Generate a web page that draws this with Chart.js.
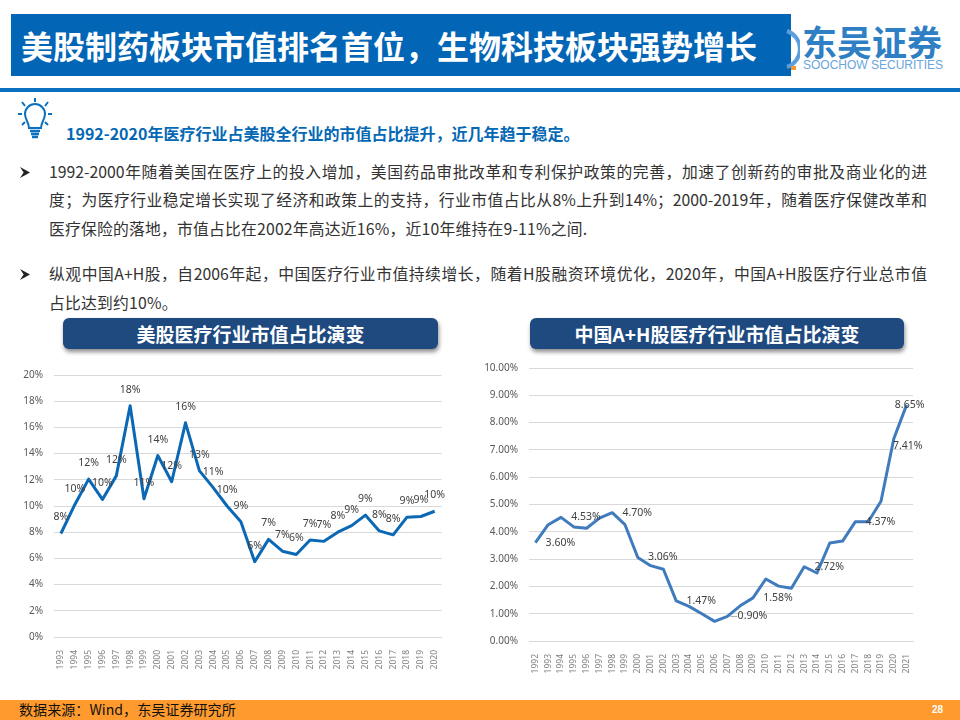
<!DOCTYPE html>
<html lang="zh">
<head>
<meta charset="utf-8">
<title>美股制药板块市值排名首位</title>
<script src="https://cdn.jsdelivr.net/npm/chart.js@4/dist/chart.umd.min.js"></script>
<style>
	html, body { margin: 0; padding: 0; background: #fff; }
	body { width: 960px; height: 720px; position: relative; overflow: hidden; font-family: "Noto Sans CJK SC", sans-serif; color: #333; }
	.abs { position: absolute; }
	#title { left: 11px; top: 14px; width: 780px; height: 62px; background: #0365b5; color: #fff; font-size: 32px; font-weight: 700; line-height: 62px; text-indent: 10px; white-space: nowrap; }
	#logo_cn { left: 802px; top: 18px; font-size: 35px; line-height: 46px; font-weight: 700; color: #2f7fc4; white-space: nowrap; }
	#logo_en { left: 803px; top: 57px; font-family: "Liberation Sans"; font-size: 12px; line-height: 16px; color: #6aa5dc; white-space: nowrap; }
	#rule { left: 0; top: 88px; width: 960px; height: 4px; background: #0a70bf; }
	#sub { left: 66px; top: 122px; font-size: 16px; line-height: 22px; font-weight: 700; color: #0468b4; white-space: nowrap; }
	.line { left: 49px; width: 878px; font-size: 15.8px; line-height: 22px; color: #333; text-align: justify; text-align-last: justify; white-space: nowrap; }
	.last { text-align-last: left; letter-spacing: 0.2px; }
	.arrow { left: 20px; width: 10px; height: 11px; }
	.head { top: 318px; height: 31px; border-radius: 6px; background: #1e4a80; color: #fff; font-size: 19px; font-weight: 700; line-height: 32px; text-align: center; box-shadow: 1px 3px 4px rgba(0,0,0,0.45); }
	#foot { left: 0; top: 700px; width: 960px; height: 20px; background: #ff9a2e; }
	#source { left: 19px; top: 699px; font-size: 14.1px; line-height: 20px; color: #111; white-space: nowrap; }
	#page { left: 932px; top: 700px; font-family: "Liberation Sans"; font-size: 10px; font-weight: 700; line-height: 20px; color: #fff; }
	#box_left { left: 20px; top: 358px; width: 430px; height: 322px; }
	#box_right { left: 470px; top: 351px; width: 460px; height: 329px; }
</style>
</head>
<body>
<div class="abs" id="title">美股制药板块市值排名首位，生物科技板块强势增长</div>
<svg class="abs" style="left:776px;top:28px" width="24" height="46" viewBox="0 0 24 46">
	<path d="M11 3 A19 19 0 0 1 11 39" fill="none" stroke="#5a9fdc" stroke-width="4"/>
	<rect x="15" y="38" width="5" height="4" fill="#f39a2e"/>
</svg>
<div class="abs" id="logo_cn">东吴证券</div>
<div class="abs" id="logo_en">SOOCHOW SECURITIES</div>
<div class="abs" id="rule"></div>

<svg class="abs" style="left:16px;top:97px" width="38" height="46" viewBox="0 0 38 46" fill="none" stroke="#0a70bf" stroke-width="2">
	<path d="M13 31 C13 25 9 23 9 17 A10 10 0 0 1 29 17 C29 23 25 25 25 31 Z"/>
	<path d="M14 34 H24 M15 37 H23 M16 40 H22" stroke-width="2.5"/>
	<path d="M19 1 V5 M6 5 L9 9 M32 5 L29 9 M2 17 H6 M32 17 H36 M6 28 L9 25 M32 28 L29 25"/>
</svg>
<div class="abs" id="sub">1992-2020年医疗行业占美股全行业的市值占比提升，近几年趋于稳定。</div>

<svg class="abs arrow" style="top:167px" viewBox="0 0 11 12"><path d="M0 0 L11 6 L0 12 L4 6 Z" fill="#222"/></svg>
<div class="abs line" style="top:161px">1992-2000年随着美国在医疗上的投入增加，美国药品审批改革和专利保护政策的完善，加速了创新药的审批及商业化的进</div>
<div class="abs line" style="top:189px">度；为医疗行业稳定增长实现了经济和政策上的支持，行业市值占比从8%上升到14%；2000-2019年，随着医疗保健改革和</div>
<div class="abs line last" style="top:218px">医疗保险的落地，市值占比在2002年高达近16%，近10年维持在9-11%之间.</div>
<svg class="abs arrow" style="top:269px" viewBox="0 0 11 12"><path d="M0 0 L11 6 L0 12 L4 6 Z" fill="#222"/></svg>
<div class="abs line" style="top:263px">纵观中国A+H股，自2006年起，中国医疗行业市值持续增长，随着H股融资环境优化，2020年，中国A+H股医疗行业总市值</div>
<div class="abs line last" style="top:292px">占比达到约10%。</div>

<div class="abs head" style="left:63px;width:375px">美股医疗行业市值占比演变</div>
<div class="abs head" style="left:530px;width:374px">中国A+H股医疗行业市值占比演变</div>

<div class="abs" id="box_left"><canvas id="chart_left"></canvas></div>
<div class="abs" id="box_right"><canvas id="chart_right"></canvas></div>

<div class="abs" id="foot"></div>
<div class="abs" id="source">数据来源：Wind，东吴证券研究所</div>
<div class="abs" id="page">28</div>

<script>
var usYears = ['1993','1994','1995','1996','1997','1998','1999','2000','2001','2002','2003','2004','2005','2006','2007','2008','2009','2010','2011','2012','2013','2014','2015','2016','2017','2018','2019','2020'];
var usShare = [7.9,10.1,12.05,10.5,12.3,17.65,10.55,13.85,11.85,16.35,12.7,11.4,10.0,8.8,5.75,7.45,6.55,6.3,7.4,7.3,8.0,8.5,9.3,8.1,7.8,9.15,9.2,9.6];
var usLabels = ['8%','10%','12%','10%','12%','18%','11%','14%','12%','16%','13%','11%','10%','9%','6%','7%','7%','6%','7%','7%','8%','9%','9%','8%','8%','9%','9%','10%'];

var cnYears = ['1992','1993','1994','1995','1996','1997','1998','1999','2000','2001','2002','2003','2004','2005','2006','2007','2008','2009','2010','2011','2012','2013','2014','2015','2016','2017','2018','2019','2020','2021'];
var cnShare = [3.6,4.26,4.53,4.18,4.13,4.5,4.7,4.26,3.06,2.76,2.63,1.47,1.27,1.0,0.72,0.9,1.29,1.58,2.27,2.01,1.93,2.72,2.49,3.59,3.66,4.37,4.37,5.12,7.41,8.65];
var cnLabels = ['3.60%',null,'4.53%',null,null,null,'4.70%',null,'3.06%',null,null,'1.47%',null,null,null,'0.90%',null,'1.58%',null,null,null,'2.72%',null,null,null,'4.37%',null,null,'7.41%','8.65%'];

var tickFont = '"Noto Sans", sans-serif';

// excel style labels, each one centred on an offset from its point
var pointLabels = {
	id: 'pointLabels',
	afterDatasetsDraw: function (chart, args, opts) {
		var ctx = chart.ctx;
		var points = chart.getDatasetMeta(0).data;
		ctx.save();
		ctx.font = '10.5px ' + tickFont;
		ctx.fillStyle = '#404040';
		ctx.textAlign = 'center';
		ctx.textBaseline = 'middle';
		opts.texts.forEach(function (text, i) {
			if (!text) {
				return;
			}
			var off = opts.place(i);
			ctx.fillText(text, points[i].x + off[0], points[i].y + off[1]);
			if (off[2]) {
				ctx.strokeStyle = '#a6a6a6';
				ctx.beginPath();
				ctx.moveTo(points[i].x + 3, points[i].y);
				ctx.lineTo(points[i].x + off[2], points[i].y);
				ctx.stroke();
			}
		});
		ctx.restore();
	}
};

function makeChart(id, years, share, lineColor, yOpts, padding, xHeight, yWidth, labelOpts)
{
	return new Chart(document.getElementById(id), {
		type: 'line',
		data: {
			labels: years,
			datasets: [{
				data: share,
				borderColor: lineColor,
				borderWidth: 3,
				pointRadius: 0,
				tension: 0,
				borderJoinStyle: 'round'
			}]
		},
		plugins: [pointLabels],
		options: {
			responsive: true,
			maintainAspectRatio: false,
			animation: false,
			layout: { padding: padding },
			plugins: {
				legend: { display: false },
				tooltip: { enabled: false },
				pointLabels: labelOpts
			},
			scales: {
				x: {
					offset: true,
					grid: { display: false },
					border: { color: '#d9d9d9' },
					afterFit: function (scale) { scale.height = xHeight; },
					ticks: {
						autoSkip: false,
						minRotation: 90,
						maxRotation: 90,
						padding: 5,
						color: '#7f7f7f',
						font: { family: tickFont, size: 8.5 }
					}
				},
				y: {
					min: 0,
					max: yOpts.max,
					grid: { color: '#d9d9d9', drawTicks: false },
					border: { display: false },
					afterFit: function (scale) { scale.width = yWidth; },
					ticks: {
						stepSize: yOpts.step,
						padding: 11,
						color: '#595959',
						font: { family: tickFont, size: 10 },
						callback: function (value) { return value.toFixed(yOpts.digits) + '%'; }
					}
				}
			}
		}
	});
}

makeChart('chart_left', usYears, usShare, '#0a68b4', { max: 20, step: 2, digits: 0 },
	{ top: 12, right: 7, left: 0, bottom: 0 }, 43, 34,
	{ texts: usLabels, place: function () { return [0, -16]; } });

makeChart('chart_right', cnYears, cnShare, '#3f7bbd', { max: 10, step: 1, digits: 2 },
	{ top: 8, right: 17, left: 0, bottom: 0 }, 39, 59,
	{
		texts: cnLabels,
		place: function (i) {
			if (i === 29) {
				return [3, 0];
			}
			if (i === 28) {
				return [14, 7];
			}
			if (i === 15) {
				return [25, 0, 10];
			}
			return [25, 0];
		}
	});
</script>
</body>
</html>
